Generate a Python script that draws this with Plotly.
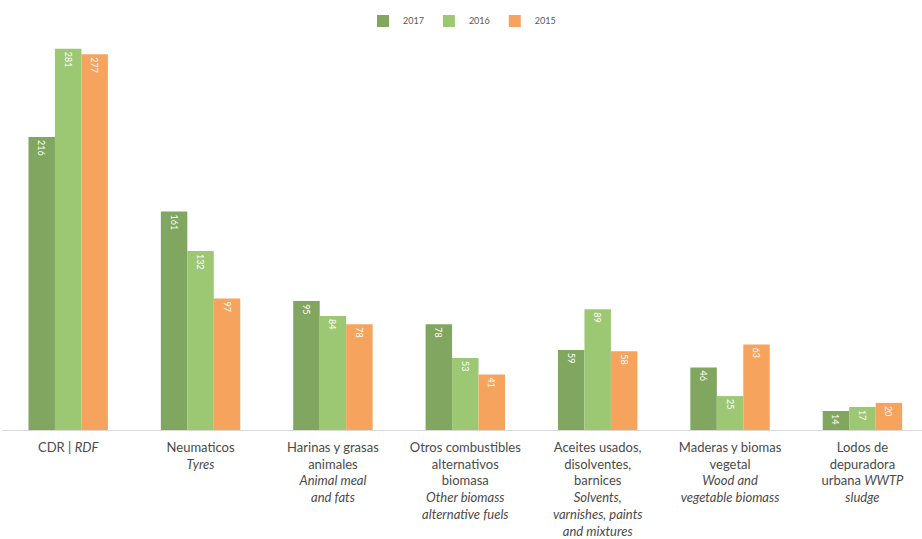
import plotly.graph_objects as go

categories = [
    "CDR | <i>RDF</i>",
    "Neumaticos<br><i>Tyres</i>",
    "Harinas y grasas<br>animales<br><i>Animal meal</i><br><i>and fats</i>",
    "Otros combustibles<br>alternativos<br>biomasa<br><i>Other biomass</i><br><i>alternative fuels</i>",
    "Aceites usados,<br>disolventes,<br>barnices<br><i>Solvents,</i><br><i>varnishes, paints</i><br><i>and mixtures</i>",
    "Maderas y biomas<br>vegetal<br><i>Wood and</i><br><i>vegetable biomass</i>",
    "Lodos de<br>depuradora<br>urbana <i>WWTP</i><br><i>sludge</i>",
]
series_names = ["2017", "2016", "2015"]
v2017 = [216, 161, 95, 78, 59, 46, 14]
v2016 = [281, 132, 84, 53, 89, 25, 17]
v2015 = [277, 97, 78, 41, 58, 63, 20]
colors = ["#80A660", "#9DC873", "#F6A35E"]

x = list(range(len(categories)))
fig = go.Figure()
for name, vals, col in zip(series_names, [v2017, v2016, v2015], colors):
    fig.add_trace(go.Bar(
        x=x, y=vals, name=name, marker_color=col, marker_line_width=0,
        text=[str(v) for v in vals], textposition="inside",
        insidetextanchor="end", textangle=90,
        textfont=dict(color="white", size=9, family="Lato"),
    ))

fig.update_layout(
    width=922, height=539,
    margin=dict(l=2, r=0, t=23, b=109),
    paper_bgcolor="white", plot_bgcolor="white",
    barmode="group", bargap=0.4, bargroupgap=0,
    uniformtext=dict(minsize=9, mode="show"),
    font=dict(family="Lato", color="#404040"),
    legend=dict(orientation="h", x=0.5, xanchor="center", y=1.005, yanchor="middle",
                font=dict(size=9, color="#595959"), itemwidth=30, itemsizing="constant",
                bgcolor="rgba(0,0,0,0)"),
    showlegend=True,
)
fig.update_xaxes(
    tickmode="array", tickvals=x, ticktext=categories,
    range=[-0.5, 6.45], showline=True, linecolor="#D9D9D9", linewidth=1,
    ticks="", ticklabelstandoff=5, tickfont=dict(size=13, color="#4a4a4a", family="Lato"),
    showgrid=False, zeroline=False, fixedrange=True,
)
fig.update_yaxes(range=[0, 300], visible=False, showgrid=False, zeroline=False)

fig.write_html("out.html")
